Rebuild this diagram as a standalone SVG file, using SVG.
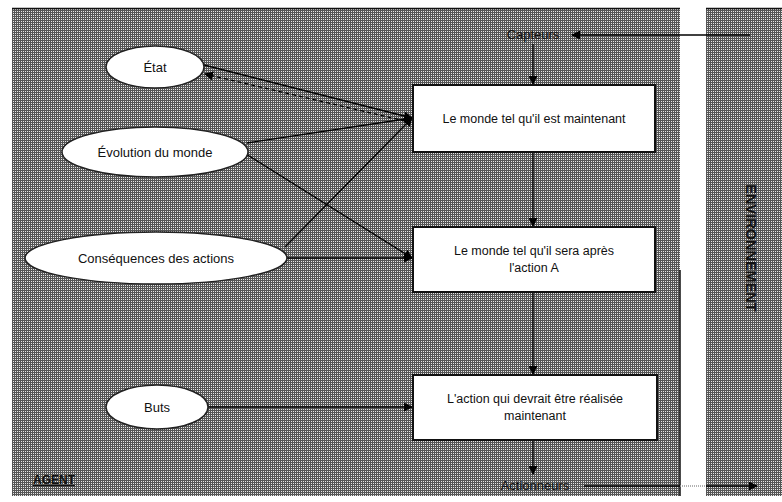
<svg xmlns="http://www.w3.org/2000/svg" width="782" height="502" viewBox="0 0 782 502">
<defs>
<pattern id="dither" width="2" height="2" patternUnits="userSpaceOnUse">
<rect width="2" height="2" fill="#555"/>
<rect x="1" y="1" width="1" height="1" fill="#e6e6e6"/>
</pattern>
<marker id="ah" viewBox="0 0 10 10" refX="9" refY="5" markerWidth="9" markerHeight="9" orient="auto" markerUnits="userSpaceOnUse">
<path d="M0,0 L10,5 L0,10 z" fill="#000"/>
</marker>
</defs>
<style>
.bg{fill:url(#dither);}
.ell{fill:#fff;stroke:#222;stroke-width:1.5;}
.box{fill:#fff;stroke:#111;stroke-width:2;}
.t{font-family:"Liberation Sans",Arial,sans-serif;font-size:12.5px;fill:#111;text-anchor:middle;}
.e{font-family:"Liberation Sans",Arial,sans-serif;font-size:13px;fill:#111;text-anchor:middle;}
.c{stroke:#000;stroke-width:1.3;fill:none;marker-end:url(#ah);}
.d{stroke:#000;stroke-width:1.3;fill:none;stroke-dasharray:4 3;marker-end:url(#ah);}
.lbl{font-family:"Liberation Sans",Arial,sans-serif;font-size:12px;font-weight:bold;fill:#111;}
</style>
<rect width="782" height="502" fill="#fff"/>
<g id="agent-panel">
<rect class="bg" x="12" y="8" width="668" height="488"/>
<line x1="12" y1="8.5" x2="680" y2="8.5" stroke="#111" stroke-width="1.5"/>
<line x1="680" y1="270" x2="680" y2="496" stroke="#111" stroke-width="1.5"/>
<text class="lbl" x="33" y="484" text-decoration="underline">AGENT</text>
</g>
<g id="environment-panel">
<rect class="bg" x="706" y="8" width="76" height="488"/>
<line x1="706" y1="8.5" x2="782" y2="8.5" stroke="#111" stroke-width="1.5"/>
<text class="lbl" transform="translate(746,248) rotate(90)" text-anchor="middle" style="font-size:14.5px">ENVIRONNEMENT</text>
</g>
<g id="connectors">
<line class="c" x1="750" y1="35" x2="572" y2="35"/>
<line class="c" x1="533" y1="44" x2="533" y2="84"/>
<line class="c" x1="533" y1="152" x2="533" y2="226"/>
<line class="c" x1="533" y1="292" x2="533" y2="374"/>
<line class="c" x1="533" y1="440" x2="533" y2="474"/>
<line x1="680" y1="486" x2="706" y2="486" stroke="#999" stroke-width="1.3" stroke-dasharray="1 1"/>
<line x1="584" y1="486" x2="680" y2="486" stroke="#000" stroke-width="1.3"/>
<line class="c" x1="706" y1="486" x2="757" y2="486"/>
<line class="c" x1="204" y1="65" x2="412" y2="118"/>
<line class="d" x1="405" y1="121" x2="205" y2="74"/>
<line class="c" x1="247" y1="143" x2="412" y2="118"/>
<line class="c" x1="246" y1="154" x2="412" y2="258"/>
<line class="c" x1="285" y1="247" x2="412" y2="118"/>
<line class="c" x1="287" y1="258" x2="412" y2="258"/>
<line class="c" x1="208" y1="407" x2="412" y2="407"/>
</g>
<g id="capteurs"><text class="e" x="533" y="39">Capteurs</text></g>
<g id="actionneurs"><text class="e" x="535" y="490">Actionneurs</text></g>
<g id="etat">
<ellipse class="ell" cx="155" cy="67" rx="49" ry="21"/>
<text class="e" x="155" y="72">État</text>
</g>
<g id="evolution">
<ellipse class="ell" cx="155" cy="152" rx="93" ry="25"/>
<text class="e" x="155" y="157">Évolution du monde</text>
</g>
<g id="consequences">
<ellipse class="ell" cx="156" cy="258" rx="131" ry="26"/>
<text class="e" x="156" y="263">Conséquences des actions</text>
</g>
<g id="buts">
<ellipse class="ell" cx="157" cy="407" rx="51" ry="22"/>
<text class="e" x="157" y="412">Buts</text>
</g>
<g id="monde-maintenant">
<rect class="box" x="413" y="85" width="242" height="67"/>
<text class="t" x="534" y="123">Le monde tel qu'il est maintenant</text>
</g>
<g id="monde-apres">
<rect class="box" x="413" y="227" width="242" height="65"/>
<text class="t" x="534" y="255">Le monde tel qu'il sera après</text>
<text class="t" x="534" y="272">l'action A</text>
</g>
<g id="action">
<rect class="box" x="413" y="375" width="244" height="65"/>
<text class="t" x="535" y="403">L'action qui devrait être réalisée</text>
<text class="t" x="535" y="420">maintenant</text>
</g>
</svg>
